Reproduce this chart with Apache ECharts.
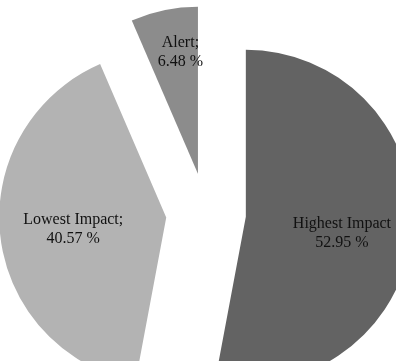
<!DOCTYPE html>
<html>
<head>
<meta charset="utf-8">
<script src="https://cdn.jsdelivr.net/npm/echarts@6/dist/echarts.min.js"></script>
<style>
  html, body { margin: 0; padding: 0; background: #fff; }
  #chart { width: 396px; height: 361px; }
</style>
</head>
<body>
<div id="chart"></div>
<script>
// data
const categories = ['Highest Impact', 'Lowest Impact', 'Alert']
const values = [52.95, 40.57, 6.48]
const separators = ['', ';', ';']
const colors = ['#636363', '#b3b3b3', '#8c8c8c']
// nudges for the labels, like Excel's best fit
const labelOffsets = [[10, 9], [-7, 2], [0, -37]]

const chart = echarts.init(document.getElementById('chart'))
chart.setOption({
    animation: false,
    series: [
        {
            type: 'pie',
            center: [206, 213],
            radius: 167,
            startAngle: 90,
            clockwise: true,
            selectedMode: 'multiple',
            selectedOffset: 40,
            avoidLabelOverlap: false,
            labelLine: { show: false },
            emphasis: { disabled: true },
            label: {
                position: 'inside',
                fontFamily: 'Liberation Serif',
                fontSize: 16,
                lineHeight: 19,
                color: '#111',
                align: 'center'
            },
            labelLayout: function (params) {
                const o = labelOffsets[params.dataIndex]
                return { dx: o[0], dy: o[1] }
            },
            data: categories.map((name, i) => ({
                name: name,
                value: values[i],
                selected: true,
                itemStyle: { color: colors[i] },
                label: {
                    formatter: name + separators[i] + '\n' + values[i].toFixed(2) + ' %'
                }
            }))
        }
    ]
})
</script>
</body>
</html>
